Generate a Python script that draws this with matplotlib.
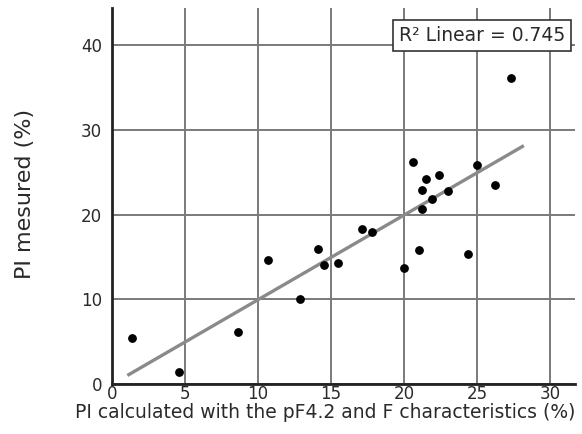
import numpy as np
import matplotlib
matplotlib.use("Agg")
import matplotlib.pyplot as plt

pi_calc = [1.4, 4.6, 8.6, 10.7, 12.9, 14.1, 14.5, 15.5, 17.1, 17.8, 20.0, 20.6,
           21.0, 21.2, 21.2, 21.5, 21.9, 22.4, 23.0, 24.4, 25.0, 26.2, 27.3]
pi_meas = [5.4, 1.4, 6.1, 14.6, 10.0, 15.9, 14.1, 14.3, 18.3, 17.9, 13.7, 26.2,
           15.8, 22.9, 20.7, 24.2, 21.9, 24.7, 22.8, 15.4, 25.9, 23.5, 36.1]
x_ticks = [0, 5, 10, 15, 20, 25, 30]
y_ticks = [0, 10, 20, 30, 40]
r2_text = "R\u00b2 Linear = 0.745"

txt_color = "#2a2a2a"

fig = plt.figure(figsize=(5.82, 4.34), dpi=100)
ax = fig.add_axes([112 / 582, 1 - 384 / 434, (575 - 112) / 582, (384 - 8) / 434])

ax.set_xlim(0, 31.7)
ax.set_ylim(0, 44.4)
ax.set_xticks(x_ticks)
ax.set_yticks(y_ticks)
ax.grid(True, color="#7a7a7a", linewidth=1.4)
ax.set_axisbelow(True)

# least-squares fit line drawn over the data range
slope, intercept = np.polyfit(pi_calc, pi_meas, 1)
xs = np.array([1.15, 28.1])
ax.plot(xs, slope * xs + intercept, color="#8a8a8a", linewidth=2.4, zorder=2)
ax.scatter(pi_calc, pi_meas, s=28, color="black", zorder=3)

for side in ["top", "right"]:
    ax.spines[side].set_visible(False)
for side in ["left", "bottom"]:
    ax.spines[side].set_linewidth(2)
    ax.spines[side].set_color("#222222")
ax.tick_params(length=0, labelsize=12, labelcolor=txt_color)
ax.tick_params(axis="x", pad=0.5)
ax.tick_params(axis="y", pad=7)

ax.set_xlabel("PI calculated with the pF4.2 and F characteristics (%)", fontsize=13.5,
              color=txt_color)
ax.xaxis.set_label_coords((325 - 112) / 463, -(413 - 384) / 376, transform=ax.transAxes)
ax.xaxis.label.set_va("center")
ax.set_ylabel("PI mesured (%)", fontsize=16, color=txt_color)
ax.yaxis.set_label_coords(-(112 - 25) / 463, (384 - 194) / 376, transform=ax.transAxes)
ax.yaxis.label.set_va("center")

ax.text((565 - 112) / 463, (384 - 26) / 376, r2_text, transform=ax.transAxes, ha="right",
        va="top", fontsize=13.5, color=txt_color,
        bbox=dict(boxstyle="square,pad=0.3", facecolor="white", edgecolor="#333333",
                  linewidth=1.2),
        zorder=5)

fig.savefig("out.png", dpi=100)
